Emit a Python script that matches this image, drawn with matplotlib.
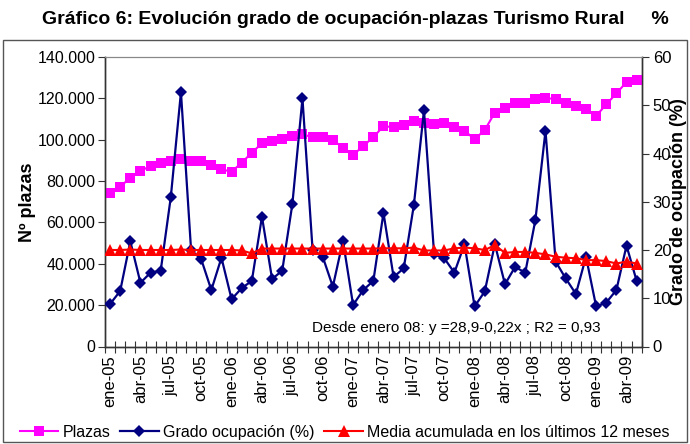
import matplotlib
matplotlib.use("Agg")
import matplotlib.pyplot as plt
from matplotlib import font_manager
from matplotlib.patches import Rectangle
from matplotlib.ticker import FuncFormatter, MultipleLocator, FixedLocator

names = {f.name for f in font_manager.fontManager.ttflist}
base_font = 'Liberation Sans' if 'Liberation Sans' in names else 'DejaVu Sans'
title_font = 'Liberation Sans Narrow' if 'Liberation Sans Narrow' in names else base_font
plt.rcParams['font.family'] = [base_font, 'DejaVu Sans']

meses = ["ene", "feb", "mar", "abr", "may", "jun", "jul", "ago", "sep", "oct", "nov", "dic"]
categories = [f"{m}-{y:02d}" for y in range(5, 10) for m in meses][:53]

plazas = [74100, 77300, 81600, 84900, 87300, 88600, 89900, 90700, 89900, 89900, 87800, 85700,
          84500, 88900, 93700, 98300, 99400, 100500, 101800, 102600, 101200, 101200, 99900, 96100,
          92600, 97000, 101200, 106600, 106000, 107100, 109000, 108200, 107500, 108200, 106000, 104400,
          100200, 104700, 113100, 115200, 117600, 117900, 119500, 120300, 119500, 117900, 116400, 114700,
          111500, 117100, 122400, 127900, 128900]

grado = [8.8, 11.5, 21.8, 13.2, 15.3, 15.7, 31.0, 52.7, 20.0, 18.1, 11.7, 18.4,
         9.8, 12.1, 13.6, 26.9, 14.0, 15.7, 29.5, 51.4, 20.0, 18.6, 12.4, 21.9,
         8.6, 11.7, 13.6, 27.7, 14.4, 16.2, 29.3, 49.0, 19.1, 18.3, 15.3, 21.2,
         8.3, 11.4, 21.2, 12.9, 16.5, 15.3, 26.2, 44.7, 17.6, 14.1, 10.9, 18.6,
         8.3, 9.1, 11.7, 20.9, 13.6]

media = [20.0, 20.0, 20.1, 20.0, 20.0, 20.0, 20.0, 20.1, 20.0, 20.0, 20.0, 20.0,
         20.0, 19.9, 19.3, 20.3, 20.3, 20.3, 20.3, 20.3, 20.3, 20.3, 20.3, 20.3,
         20.3, 20.3, 20.3, 20.35, 20.35, 20.35, 20.5, 19.9, 19.9, 19.9, 20.35, 20.5,
         20.35, 20.0, 21.0, 19.4, 19.6, 19.6, 19.4, 19.1, 18.6, 18.4, 18.3, 17.9,
         17.9, 17.7, 17.2, 17.6, 17.2]

label_every = 3
title = "Gráfico 6: Evolución grado de ocupación-plazas Turismo Rural     %"
ylabel_left = "Nº plazas"
ylabel_right = "Grado de ocupación (%)"
annot = "Desde enero 08: y =28,9-0,22x ; R2 = 0,93"
legend_labels = ["Plazas", "Grado ocupación (%)", "Media acumulada en los últimos 12 meses"]

W, H = 690, 444
fig = plt.figure(figsize=(W / 100, H / 100), dpi=100)
fig.patch.set_facecolor("white")

# chart area border
fig.add_artist(Rectangle((3 / W, 2 / H), 684 / W, 402 / H, transform=fig.transFigure,
                         fill=False, edgecolor="#555555", linewidth=1.0))

x0, x1, ytop, ybot = 105, 641.7, 57, 346.5
ax = fig.add_axes([x0 / W, 1 - ybot / H, (x1 - x0) / W, (ybot - ytop) / H])
ax2 = ax.twinx()

x = list(range(len(categories)))
l1, = ax.plot(x, plazas, color="#FF00FF", marker="s", markersize=6.5, linewidth=1.5,
              markeredgewidth=0, zorder=3)
l2, = ax2.plot(x, grado, color="#000080", marker="D", markersize=6.5, linewidth=1.6,
               markeredgewidth=0, zorder=4)
l3, = ax2.plot(x, media, color="#FF0000", marker="^", markersize=8.5, linewidth=1.5,
               markeredgewidth=0, zorder=5)

ax.set_xlim(-0.5, len(categories) - 0.5)
ax.set_ylim(0, 140000)
ax2.set_ylim(0, 60)
ax.yaxis.set_major_locator(MultipleLocator(20000))
ax.yaxis.set_major_formatter(FuncFormatter(lambda v, p: f"{int(v):,}".replace(",", ".")))
ax2.yaxis.set_major_locator(MultipleLocator(10))

ax.set_xticks([i for i in x if i % label_every == 0])
ax.set_xticklabels([categories[i] for i in x if i % label_every == 0], rotation=90, fontsize=12)
ax.xaxis.set_minor_locator(FixedLocator([i - 0.5 for i in range(len(categories) + 1)]))
ax.tick_params(axis="x", which="major", length=0, pad=6)
ax.tick_params(axis="x", which="minor", direction="inout", length=9, width=0.8, color="#333333")
ax.tick_params(axis="y", direction="out", length=5, width=0.8, labelsize=11.5, pad=2, color="#333333")
ax2.tick_params(axis="y", direction="out", length=5, width=0.8, labelsize=12, pad=3, color="#333333")

for a in (ax, ax2):
    for s in ("left", "right", "bottom"):
        a.spines[s].set_color("#333333")
        a.spines[s].set_linewidth(1.0)
    a.spines["top"].set_color("#888888")
    a.spines["top"].set_linewidth(0.8)

ax.set_ylabel(ylabel_left, fontsize=13, fontweight="bold", labelpad=1)
ax2.set_ylabel(ylabel_right, fontsize=13, fontweight="bold", labelpad=-1)

ax2.text(0.386, 0.064, annot, transform=ax.transAxes, fontsize=11, va="center", ha="left")

fig.text(355 / W, 1 - 20 / H, title, ha="center", va="center", fontsize=14,
         fontweight="bold", family=[title_font, 'DejaVu Sans'])

fig.legend([l1, l2, l3], legend_labels, loc="lower left", bbox_to_anchor=(10 / W, -0.012),
           ncol=3, frameon=False, fontsize=11.5, handlelength=2.4, handletextpad=0.3,
           columnspacing=0.6, borderaxespad=0.2)

fig.savefig("out.png", dpi=100)
